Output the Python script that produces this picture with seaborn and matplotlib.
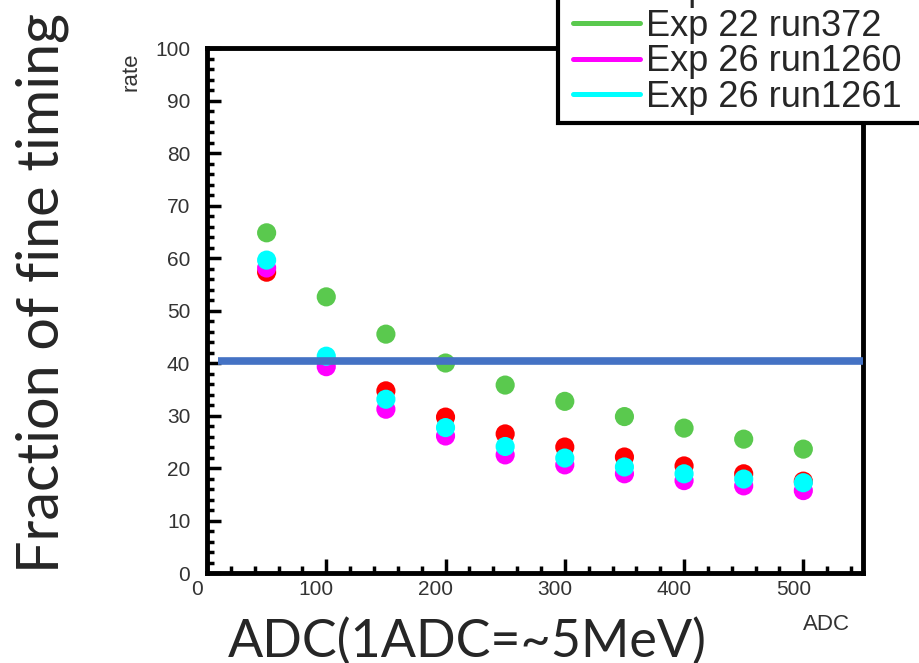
import numpy as np
import pandas as pd
import matplotlib.pyplot as plt
import seaborn as sns
from matplotlib.lines import Line2D
from matplotlib.patches import Rectangle
from matplotlib.ticker import MultipleLocator
from matplotlib.transforms import ScaledTranslation

# data
adc = [50, 100, 150, 200, 250, 300, 350, 400, 450, 500]
exp22_first = [57.3, 40.5, 34.7, 29.7, 26.5, 24.0, 22.1, 20.4, 18.9, 17.5]
exp22_run372 = [64.8, 52.6, 45.5, 40.0, 35.8, 32.7, 29.8, 27.6, 25.5, 23.6]
exp26_run1260 = [58.1, 39.3, 31.2, 26.1, 22.5, 20.6, 18.9, 17.6, 16.6, 15.7]
exp26_run1261 = [59.6, 41.3, 33.1, 27.7, 24.1, 21.9, 20.2, 18.9, 17.9, 17.2]
threshold = 40.4

run_names = ["Exp 22 run371", "Exp 22 run372", "Exp 26 run1260", "Exp 26 run1261"]
run_colors = ["#ff0000", "#5ac94e", "#ff00ff", "#00ffff"]

x_ticks = [0, 100, 200, 300, 400, 500]
y_ticks = [0, 10, 20, 30, 40, 50, 60, 70, 80, 90, 100]

sns.set_style("ticks")
plt.rcParams["font.family"] = ["Liberation Sans", "DejaVu Sans"]

frames = []
for name, vals in zip(run_names, [exp22_first, exp22_run372, exp26_run1260, exp26_run1261]):
    frames.append(pd.DataFrame({"adc": adc, "rate": vals, "run": name}))
df = pd.concat(frames, ignore_index=True)

fig = plt.figure(figsize=(9.2, 6.63), dpi=100)
ax = fig.add_axes([0.225, 0.1357, 0.713, 0.7919])

sns.scatterplot(data=df, x="adc", y="rate", hue="run", hue_order=run_names,
                palette=dict(zip(run_names, run_colors)), s=190, linewidth=0,
                legend=False, ax=ax, zorder=2)
ax.hlines(threshold, 9, 550, color="#4472C4", lw=5.5, zorder=3)

ax.set_xlim(0, 550)
ax.set_ylim(0, 100)
ax.set_xticks(x_ticks)
ax.set_yticks(y_ticks)
ax.xaxis.set_minor_locator(MultipleLocator(20))
ax.yaxis.set_minor_locator(MultipleLocator(2))
ax.set_xlabel("")
ax.set_ylabel("")
for sp in ax.spines.values():
    sp.set_linewidth(3.5)
    sp.set_edgecolor("black")
    sp.set_visible(True)
ax.tick_params(which="both", direction="in", top=False, right=False, width=2.5,
               color="black", labelsize=15, labelcolor="#333333")
ax.tick_params(which="major", length=10)
ax.tick_params(which="minor", length=5)
ax.tick_params(axis="x", pad=5)
ax.tick_params(axis="y", pad=12)
for lab in ax.get_xticklabels():
    lab.set_transform(lab.get_transform() + ScaledTranslation(-0.10, 0, fig.dpi_scale_trans))

# small axis titles from the original histogram
fig.text(131 / 920, 1 - 72 / 663, "rate", rotation=90, ha="center", va="center",
         fontsize=16, color="#333333")
fig.text(826 / 920, 1 - 624 / 663, "ADC", ha="center", va="center",
         fontsize=16, color="#333333")

# big slide labels
fig.text(42 / 920, 1 - 293 / 663, "Fraction of fine timing", rotation=90,
         ha="center", va="center", fontsize=41.5, family=["Lato", "DejaVu Sans"])
fig.text(467 / 920, 0.009, "ADC(1ADC=~5MeV)", ha="center", va="baseline",
         fontsize=37.5, family=["Lato", "DejaVu Sans"])

# legend box, partly cut off by the top of the picture
fig.add_artist(Rectangle((558 / 920, 1 - 123 / 663), 0.5, 0.3, transform=fig.transFigure,
                         facecolor="white", edgecolor="black", lw=3, zorder=4))
handles = [Line2D([], [], color=c, lw=3.6) for c in run_colors]
leg = fig.legend(handles, run_names, loc="lower left",
                 bbox_to_anchor=(573 / 920, 1 - 115 / 663), bbox_transform=fig.transFigure,
                 frameon=False, fontsize=26, borderpad=0, borderaxespad=0,
                 handlelength=1.86, handletextpad=0.15, labelspacing=0.02)
leg.set_zorder(5)

plt.savefig("out.png", dpi=100)
plt.close()
